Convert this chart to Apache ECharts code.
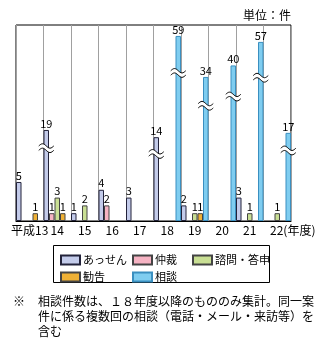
<!DOCTYPE html>
<html><head><meta charset="utf-8">
<script src="https://cdn.jsdelivr.net/npm/echarts@6/dist/echarts.min.js"></script>
<style>html,body{margin:0;padding:0;background:#fff}#c{width:325px;height:346px}</style>
</head><body><div id="c"></div>
<script>
const categories = ['平成13','14','15','16','17','18','19','20','21','22(年度)'];
const seriesNames = ['あっせん','仲裁','諮問・答申','勧告','相談'];
const assen   = [5, 19, 1, 4, 3, 14, 2, null, 3, null];
const chusai  = [null, 1, null, 2, null, null, null, null, null, null];
const shimon  = [null, 3, 2, null, null, null, 1, null, 1, 1];
const kankoku = [1, 1, null, null, null, null, 1, null, null, null];
const soudan  = [null, null, null, null, null, 59, 34, 40, 57, 17];
const unitLabel = '単位：件';
const noteMark = '※';
const noteLines = [
  '相談件数は、１８年度以降のもののみ集計。同一案',
  '件に係る複数回の相談（電話・メール・来訪等）を',
  '含む'
];

const FONT = '"Noto Sans CJK JP", sans-serif';
const values = [assen, chusai, shimon, kankoku, soudan];
const colors = ['#c3cbea', '#f6b3c3', '#c9df94', '#efb136', '#7fcdf0'];
const borders = ['#22223a', '#444', '#444', '#444', '#3a8fc0'];
const breakThreshold = 10;

const chart = echarts.init(document.getElementById('c'), null, {renderer: 'canvas'});

const barSeries = seriesNames.map((name, i) => ({
  name, type: 'bar', data: values[i],
  barGap: '0%', barCategoryGap: '0%',
  itemStyle: {color: colors[i], borderColor: borders[i], borderWidth: 1},
  label: {show: true, position: 'top', distance: 1, fontSize: 11, fontFamily: FONT, color: '#000'},
  z: 2
}));

const breakMarks = [];
values.forEach((arr, s) => arr.forEach((v, c) => {
  if (v != null && v > breakThreshold) breakMarks.push([c, v, s]);
}));

function wave(cx, cy, dy, hw, amp) {
  const pts = [];
  for (let k = 0; k <= 16; k++) {
    const x = -hw + (2 * hw) * k / 16;
    pts.push([cx + x, cy + dy - amp * Math.sin(Math.PI * (x + hw) / hw)]);
  }
  return pts;
}

const markSeries = {
  type: 'custom', data: breakMarks, encode: {x: 0, y: 1}, z: 5, silent: true,
  renderItem(params, api) {
    const cat = api.value(0), val = api.value(1), slot = api.value(2);
    const top = api.coord([cat, val]);
    const base = api.coord([cat, 0]);
    const bw = api.size([1, 0])[0] / seriesNames.length;
    const cx = top[0] + (slot - (seriesNames.length - 1) / 2) * bw;
    const cy = base[1] - 0.8 * (base[1] - top[1]);
    const up = wave(cx, cy, -2.2, 7.5, 2.2);
    const lo = wave(cx, cy, 2.2, 7.5, 2.2);
    const poly = up.concat(lo.slice().reverse());
    return {type: 'group', children: [
      {type: 'polygon', shape: {points: poly}, style: {fill: '#fff'}},
      {type: 'polyline', shape: {points: up}, style: {stroke: '#000', lineWidth: 1, fill: null}},
      {type: 'polyline', shape: {points: lo}, style: {stroke: '#000', lineWidth: 1, fill: null}}
    ]};
  }
};

const legendPos = [[60, 253], [132, 253], [192, 253], [60, 270], [132, 270]];
const legends = seriesNames.map((n, i) => ({
  data: [n], left: legendPos[i][0], top: legendPos[i][1], padding: 0,
  itemWidth: 19, itemHeight: 9, selectedMode: false, icon: 'rect',
  textStyle: {fontSize: 11, lineHeight: 14, fontFamily: FONT, color: '#000', padding: [0, 0, 0, -2]}
}));

const option = {
  animation: false,
  grid: {left: 16, top: 25, right: 34, bottom: 125, show: true, borderColor: '#000', borderWidth: 1, containLabel: false},
  legend: legends,
  xAxis: {
    type: 'category', data: categories, boundaryGap: true,
    axisLine: {show: true, lineStyle: {color: '#000', width: 1}},
    axisTick: {show: false},
    splitLine: {show: true, interval: 0, lineStyle: {color: '#a0a0a0', width: 1}},
    axisLabel: {
      interval: 0, margin: 3, fontSize: 12, fontFamily: FONT, color: '#000',
      formatter: v => v.indexOf('(') > 0 ? '{sp| }' + v : v,
      rich: {sp: {width: 31}}
    }
  },
  yAxis: {
    type: 'value', min: 0, max: 60.4,
    breaks: [
      {start: 10, end: 19, gap: 1.667},
      {start: 20, end: 33.5, gap: 5.295},
      {start: 34.5, end: 58.5, gap: 4.256}
    ],
    breakArea: {show: false},
    axisLine: {show: false}, axisTick: {show: false}, axisLabel: {show: false}, splitLine: {show: false}
  },
  series: barSeries.concat([markSeries]),
  graphic: [
    {type: 'text', right: 34, top: 9, style: {text: unitLabel, fontSize: 12, fontFamily: FONT, fill: '#000'}},
    {type: 'rect', shape: {x: 53.5, y: 245.5, width: 216, height: 37}, style: {fill: 'none', stroke: '#000', lineWidth: 1}},
    {type: 'text', left: 13, top: 295, style: {text: noteMark, fontSize: 12, fontFamily: FONT, fill: '#000'}},
    {type: 'text', left: 38, top: 295, style: {text: noteLines[0], fontSize: 12, fontFamily: FONT, fill: '#000'}},
    {type: 'text', left: 38, top: 310, style: {text: noteLines[1], fontSize: 12, fontFamily: FONT, fill: '#000'}},
    {type: 'text', left: 38, top: 325, style: {text: noteLines[2], fontSize: 12, fontFamily: FONT, fill: '#000'}}
  ]
};
chart.setOption(option);
</script>
</body></html>
